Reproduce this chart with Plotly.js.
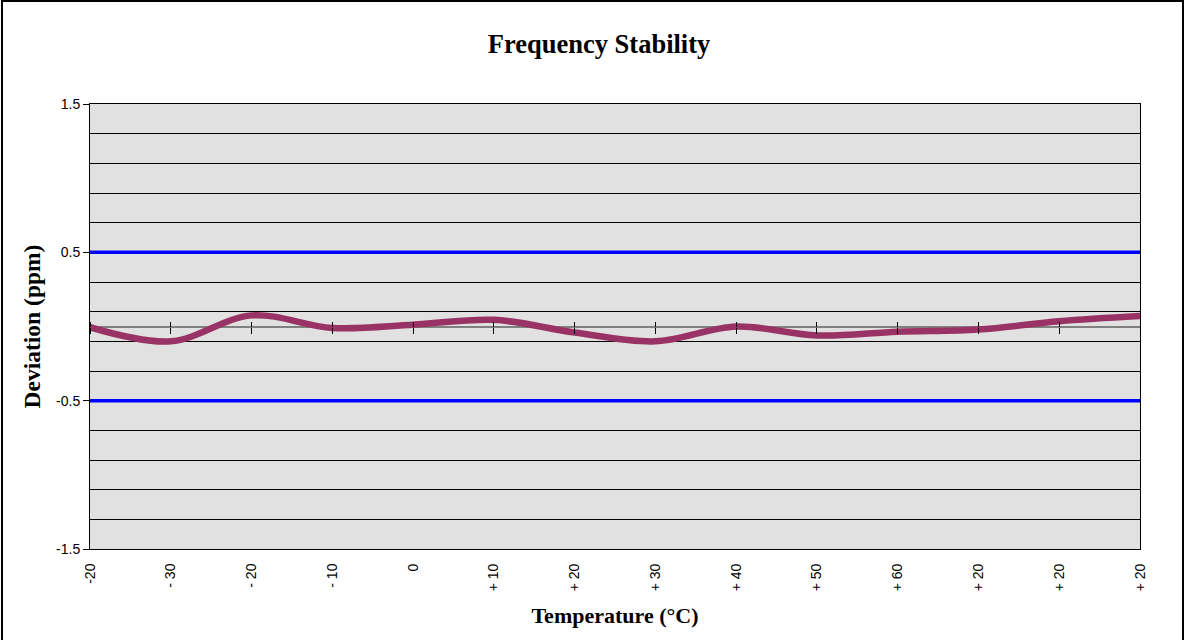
<!DOCTYPE html>
<html>
<head>
<meta charset="utf-8">
<script src="https://cdn.plot.ly/plotly-3.0.1.min.js"></script>
<style>
  html, body { margin: 0; padding: 0; background: #fff; }
  #wrap { position: relative; width: 1185px; height: 640px; overflow: hidden; }
  #chart { width: 1185px; height: 640px; }
  #frame { position: absolute; left: 1px; top: 0px; width: 1183px; height: 700px;
           border: 2px solid #000; pointer-events: none; box-sizing: border-box; }
</style>
</head>
<body>
<div id="wrap">
  <div id="chart"></div>
  <div id="frame"></div>
</div>
<script>
// Temperature categories (as printed on the x axis)
const categories = ["-20", "- 30", "- 20", "- 10", "0", "+ 10", "+ 20", "+ 30",
                    "+ 40", "+ 50", "+ 60", "+ 20", "+ 20", "+ 20"];
// Frequency deviation (ppm)
const deviation = [-0.005, -0.10, 0.075, -0.01, 0.012, 0.045, -0.04, -0.10,
                   0.0, -0.06, -0.035, -0.02, 0.035, 0.07];
// Tolerance limits (ppm)
const upperLimit = [0.5, 0.5, 0.5, 0.5, 0.5, 0.5, 0.5, 0.5, 0.5, 0.5, 0.5, 0.5, 0.5, 0.5];
const lowerLimit = [-0.5, -0.5, -0.5, -0.5, -0.5, -0.5, -0.5, -0.5, -0.5, -0.5, -0.5, -0.5, -0.5, -0.5];
// Y tick labels
const yTickVals = [-1.5, -0.5, 0.5, 1.5];
const yTickText = ["-1.5", "-0.5", "0.5", "1.5"];

const xIdx = categories.map((c, i) => i);

const traces = [
  { x: xIdx, y: upperLimit, type: 'scatter', mode: 'lines', xaxis: 'x2',
    line: { color: '#0000ff', width: 3.5 }, hoverinfo: 'skip' },
  { x: xIdx, y: lowerLimit, type: 'scatter', mode: 'lines', xaxis: 'x3',
    line: { color: '#0000ff', width: 3.5 }, hoverinfo: 'skip' },
  { x: xIdx, y: deviation, type: 'scatter', mode: 'lines',
    line: { color: '#993366', width: 6.5, shape: 'spline', smoothing: 1 } }
];

const serif = 'Liberation Serif, Times New Roman, serif';
const sans = 'Liberation Sans, Arial, sans-serif';
const xRange = [0, categories.length - 1];

const layout = {
  width: 1185, height: 640,
  margin: { l: 90, r: 45, t: 104, b: 91 },
  paper_bgcolor: 'rgba(0,0,0,0)',
  plot_bgcolor: '#e1e1e1',
  showlegend: false,
  title: { text: '<b>Frequency Stability</b>', font: { family: serif, size: 26.5, color: '#000' },
           xref: 'container', yref: 'container', x: 0.5055, y: 0.932,
           xanchor: 'center', yanchor: 'middle' },
  xaxis: {
    range: xRange, tickvals: xIdx, ticktext: categories, tickangle: -90,
    ticks: 'outside', ticklen: 8, tickcolor: 'rgba(0,0,0,0)',
    tickfont: { family: sans, size: 14, color: '#000' },
    showgrid: false, zeroline: false,
    showline: true, mirror: true, linecolor: '#000', linewidth: 1,
    title: { text: '<b>Temperature (°C)</b>', font: { family: serif, size: 22, color: '#000' }, standoff: 17 }
  },
  xaxis2: {
    overlaying: 'x', anchor: 'free', position: 0.5, side: 'bottom',
    range: xRange, tickvals: xIdx, ticks: 'outside', ticklen: 6, tickwidth: 1, tickcolor: '#000',
    showticklabels: false, showgrid: false, zeroline: false, showline: false
  },
  xaxis3: {
    overlaying: 'x', anchor: 'free', position: 0.5, side: 'top',
    range: xRange, tickvals: xIdx, ticks: 'outside', ticklen: 5, tickwidth: 1, tickcolor: '#000',
    showticklabels: false, showgrid: false, zeroline: false, showline: false
  },
  yaxis: {
    range: [-1.5, 1.5], tickvals: yTickVals, ticktext: yTickText,
    ticks: 'outside', ticklen: 6, tickcolor: '#000', tickwidth: 1,
    tickfont: { family: sans, size: 14, color: '#000' },
    showgrid: true, gridcolor: '#000', gridwidth: 1,
    minor: { tick0: -1.5, dtick: 0.2, showgrid: true, gridcolor: '#000', gridwidth: 1, ticks: '' },
    zeroline: true, zerolinecolor: '#808080', zerolinewidth: 2,
    showline: true, mirror: true, linecolor: '#000', linewidth: 1,
    title: { text: '<b>Deviation (ppm)</b>', font: { family: serif, size: 23.5, color: '#000' }, standoff: 8 }
  }
};

Plotly.newPlot('chart', traces, layout, { displayModeBar: false, staticPlot: true });
</script>
</body>
</html>
